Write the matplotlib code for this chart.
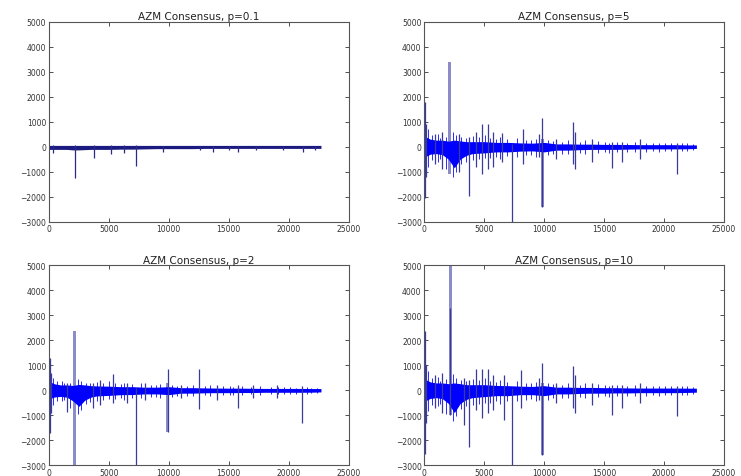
import matplotlib
matplotlib.use("Agg")
import matplotlib.pyplot as plt

titles = ["AZM Consensus, p=0.1", "AZM Consensus, p=5",
          "AZM Consensus, p=2", "AZM Consensus, p=10"]
x_ticks = [0, 5000, 10000, 15000, 20000, 25000]
y_ticks = [-3000, -2000, -1000, 0, 1000, 2000, 3000, 4000, 5000]

# dense band envelope (x, upper, lower) per panel
env_x = [0, 500, 1000, 1500, 2000, 2500, 3000, 3500, 4000, 5000, 6000, 7000,
         8000, 9000, 10000, 11000, 12000, 13000, 14000, 15000, 16000, 17000,
         18000, 19000, 20000, 21000, 22000, 22700]
band_p01_hi = [50] * 28
band_p01_lo = [-110, -110, -110, -110, -130, -130, -120, -110, -110, -110, -100, -100,
               -90, -80, -80, -80, -80, -70, -70, -70, -70, -70, -70, -70, -70, -70, -70, -70]
band_p5_hi = [420, 300, 260, 260, 220, 260, 230, 200, 200, 200, 170, 170, 150, 140,
              170, 110, 110, 100, 100, 90, 90, 85, 80, 80, 80, 80, 70, 70]
band_p5_lo = [-420, -300, -280, -320, -500, -850, -500, -350, -280, -250, -210, -210,
              -180, -170, -210, -140, -140, -120, -110, -110, -110, -100, -90, -90,
              -90, -90, -85, -70]
band_p2_hi = [350, 250, 210, 210, 190, 230, 210, 180, 170, 160, 140, 140, 120, 120,
              140, 100, 100, 90, 85, 80, 80, 75, 70, 70, 70, 70, 65, 65]
band_p2_lo = [-350, -270, -250, -280, -430, -650, -400, -280, -230, -210, -180, -175,
              -150, -150, -180, -120, -120, -105, -100, -100, -95, -95, -85, -85,
              -85, -85, -80, -70]
band_p10_hi = [450, 330, 290, 290, 260, 290, 260, 220, 220, 220, 190, 180, 160, 150,
               180, 120, 120, 110, 110, 100, 100, 90, 85, 85, 85, 85, 80, 80]
band_p10_lo = [-450, -330, -300, -340, -530, -900, -530, -370, -300, -260, -220, -220,
               -180, -180, -220, -150, -150, -130, -120, -120, -110, -110, -100, -100,
               -100, -100, -90, -80]

# thin spikes: position, top, bottom
sp_p01_x = [300, 2170, 3750, 5200, 6300, 7300, 9500, 12600, 13700, 15000, 15800, 17300, 19500, 21200, 22200]
sp_p01_hi = [80, 60, 60, 50, 50, 60, 40, 40, 40, 40, 40, 40, 40, 40, 40]
sp_p01_lo = [-250, -1250, -450, -300, -250, -780, -200, -150, -200, -150, -200, -150, -150, -200, -150]

sp_p5_x = [70, 150, 900, 1500, 2900, 3750, 4300, 4800, 5300, 5700, 6500, 7330,
           8200, 9600, 9830, 11000, 12400, 12600, 14000, 15700, 16500, 18000, 21100]
sp_p5_hi = [1800, 900, 500, 600, 500, 400, 600, 900, 900, 600, 550, 100,
            700, 500, 1150, 300, 1000, 600, 300, 200, 200, 300, 150]
sp_p5_lo = [-2050, -1200, -700, -900, -1000, -1980, -800, -1100, -900, -800, -600, -3000,
            -700, -400, -2400, -500, -700, -900, -600, -850, -600, -500, -1100]

sp_p2_x = [70, 180, 1500, 3700, 4300, 5330, 6500, 7300, 8000, 9920, 11000,
           12500, 14000, 15800, 17000, 19000, 21100]
sp_p2_hi = [1300, 700, 300, 300, 400, 640, 300, 100, 300, 840, 200,
            850, 200, 200, 200, 200, 150]
sp_p2_lo = [-1730, -900, -870, -700, -600, -500, -500, -3000, -400, -1670, -300,
            -770, -400, -700, -300, -300, -1330]

sp_p10_x = [70, 180, 900, 1500, 2170, 3330, 3750, 4300, 4800, 5300, 5700, 6670, 7330,
            8080, 9600, 9830, 11000, 12400, 12600, 14000, 15700, 16500, 18000, 21100]
sp_p10_hi = [2370, 1000, 600, 700, 3300, 500, 400, 840, 840, 840, 600, 600, 100,
             800, 500, 1090, 300, 960, 600, 300, 200, 200, 300, 150]
sp_p10_lo = [-2540, -1300, -700, -900, -1000, -1380, -2270, -800, -1100, -900, -800, -1190, -3000,
             -700, -400, -2600, -500, -700, -900, -600, -980, -700, -500, -1050]

# small bright-blue spikes that give the band its ragged texture
mn_x = [300, 650, 1100, 1300, 1800, 2400, 2650, 3100, 3450, 4050, 4550, 5050,
        5500, 6000, 6300, 6900, 7700, 8500, 8900, 9300, 10300, 10700, 11500, 12000,
        13000, 13400, 14500, 15100, 15400, 16100, 16900, 17600, 18500, 19100, 19600,
        20100, 20600, 21500, 21900, 22400]
mn_p5_hi = [700, 450, 500, 350, 400, 600, 450, 380, 350, 420, 380, 450, 350, 300,
            380, 300, 350, 280, 250, 300, 280, 220, 200, 260, 200, 250, 220, 180,
            160, 200, 150, 180, 160, 140, 160, 140, 130, 150, 130, 120]
mn_p5_lo = [-800, -550, -600, -500, -900, -1200, -1000, -700, -600, -550, -500, -450,
            -450, -400, -500, -380, -400, -350, -330, -400, -350, -300, -280, -300,
            -250, -300, -260, -220, -250, -220, -200, -220, -200, -180, -200, -180,
            -170, -190, -160, -150]
mn_p2_hi = [500, 350, 380, 280, 300, 450, 350, 300, 280, 320, 300, 350, 280, 240,
            300, 240, 280, 220, 200, 240, 220, 180, 160, 210, 160, 200, 180, 150,
            130, 160, 120, 150, 130, 110, 130, 110, 100, 120, 100, 100]
mn_p2_lo = [-600, -420, -450, -380, -700, -950, -800, -550, -470, -430, -400, -360,
            -360, -320, -400, -300, -320, -280, -260, -320, -280, -240, -220, -240,
            -200, -240, -210, -180, -200, -180, -160, -180, -160, -150, -160, -150,
            -140, -150, -130, -120]
mn_p10_hi = [750, 480, 530, 380, 430, 650, 480, 400, 380, 450, 400, 480, 380, 320,
             400, 320, 370, 300, 270, 320, 300, 240, 220, 280, 220, 270, 240, 200,
             180, 220, 170, 200, 180, 160, 180, 160, 150, 170, 150, 140]
mn_p10_lo = [-850, -600, -650, -550, -950, -1250, -1050, -750, -650, -600, -550, -500,
             -500, -450, -550, -420, -450, -380, -360, -430, -380, -330, -300, -330,
             -280, -330, -290, -250, -280, -250, -220, -250, -220, -200, -220, -200,
             -190, -210, -180, -170]
mn_p01_hi = [0] * 40
mn_p01_lo = [0] * 40

# broad (dense oscillation) spikes: position, top, bottom
wide_p5_x, wide_p5_hi, wide_p5_lo = [2080, 9830], [3400, 300], [-1100, -2400]
wide_p2_x, wide_p2_hi, wide_p2_lo = [2170, 9920], [2370, 300], [-3000, -1670]
wide_p10_x, wide_p10_hi, wide_p10_lo = [2170, 9830], [5000, 300], [-1000, -2600]
wide_p01_x, wide_p01_hi, wide_p01_lo = [], [], []

panels = [
    (band_p01_hi, band_p01_lo, sp_p01_x, sp_p01_hi, sp_p01_lo, wide_p01_x, wide_p01_hi, wide_p01_lo, mn_p01_hi, mn_p01_lo),
    (band_p5_hi, band_p5_lo, sp_p5_x, sp_p5_hi, sp_p5_lo, wide_p5_x, wide_p5_hi, wide_p5_lo, mn_p5_hi, mn_p5_lo),
    (band_p2_hi, band_p2_lo, sp_p2_x, sp_p2_hi, sp_p2_lo, wide_p2_x, wide_p2_hi, wide_p2_lo, mn_p2_hi, mn_p2_lo),
    (band_p10_hi, band_p10_lo, sp_p10_x, sp_p10_hi, sp_p10_lo, wide_p10_x, wide_p10_hi, wide_p10_lo, mn_p10_hi, mn_p10_lo),
]

fig, axes = plt.subplots(2, 2, figsize=(7.41, 4.77), dpi=100)
fig.patch.set_facecolor("white")
fig.subplots_adjust(left=0.066, right=0.977, top=0.952, bottom=0.023,
                    wspace=0.253, hspace=0.22)

for i, (ax, title, p) in enumerate(zip(axes.flat, titles, panels)):
    bhi, blo, sx, shi, slo, wx, whi, wlo, mhi, mlo = p
    for x, h, l in zip(wx, whi, wlo):
        ax.fill_between([x - 120, x + 120], [l, l], [h, h], color="#8c8cc8", lw=0, zorder=1)
    band_col = "#1a1a80" if i == 0 else "#0000ff"
    if i > 0:
        ax.vlines(mn_x, mlo, mhi, color="#2a2aff", lw=0.7, zorder=2)
    ax.fill_between(env_x, blo, bhi, color=band_col, lw=0, zorder=2)
    ax.vlines(sx, slo, shi, color="#2a2a8a" if i == 0 else "#3a3a9a", lw=0.9, zorder=3)
    ax.set_xlim(0, 25000)
    ax.set_ylim(-3000, 5000)
    ax.set_xticks(x_ticks)
    ax.set_yticks(y_ticks)
    ax.tick_params(direction="in", top=True, right=True, labelsize=5.5,
                   length=3, width=0.6, pad=2, colors="#333333")
    for s in ax.spines.values():
        s.set_linewidth(0.8)
        s.set_color("#555555")
    ax.set_title(title, fontsize=7.5, pad=2, color="#222222")

fig.savefig("out.png", dpi=100, facecolor="white")
